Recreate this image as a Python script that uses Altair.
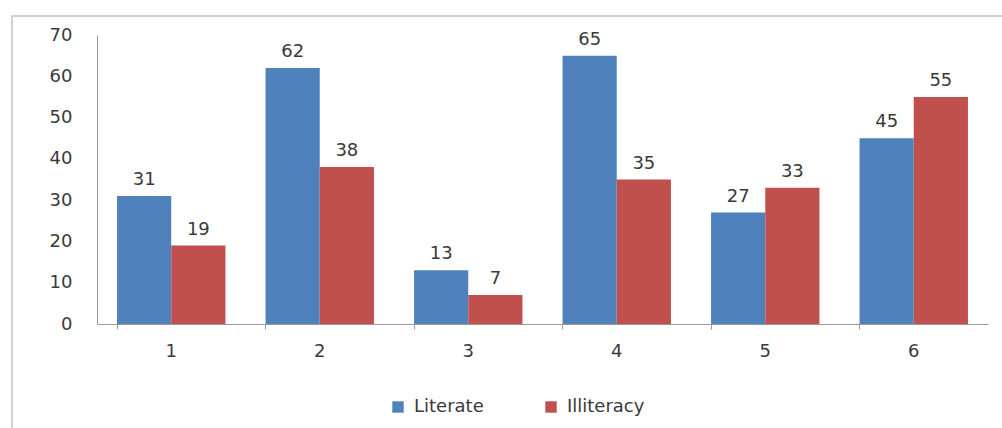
import altair as alt
import pandas as pd

categories = ["1", "2", "3", "4", "5", "6"]
literate = [31, 62, 13, 65, 27, 45]
illiteracy = [19, 38, 7, 35, 33, 55]
series = ["Literate", "Illiteracy"]
colors = ["#4F81BD", "#C0504D"]

rows = []
for c, a, b in zip(categories, literate, illiteracy):
    rows.append({"cat": c, "series": "Literate", "value": a})
    rows.append({"cat": c, "series": "Illiteracy", "value": b})
df = pd.DataFrame(rows)

FONT = "DejaVu Sans"
FS = 18
TXT = "#3a3a3a"
W, H = 891, 289

x = alt.X("cat:N", sort=categories, title=None,
          scale=alt.Scale(paddingInner=0.27, paddingOuter=0.135),
          axis=alt.Axis(labelAngle=0, labelFontSize=FS, labelColor=TXT,
                        labelFont=FONT, labelPadding=13, domainColor="#9a9a9a",
                        tickColor="#9a9a9a", tickSize=5, bandPosition=0))
xo = alt.XOffset("series:N", sort=series, scale=alt.Scale(paddingInner=0, paddingOuter=0))
y = alt.Y("value:Q", title=None,
          scale=alt.Scale(domain=[0, 70]),
          axis=alt.Axis(values=[0, 10, 20, 30, 40, 50, 60, 70], grid=False, ticks=False,
                        labelFontSize=FS, labelColor=TXT, labelFont=FONT,
                        labelPadding=25, domainColor="#9a9a9a"))
color = alt.Color("series:N", sort=series, title=None,
                  scale=alt.Scale(domain=series, range=colors),
                  legend=alt.Legend(orient="none", direction="horizontal",
                                    legendX=292, legendY=363, symbolType="square",
                                    symbolSize=130, symbolStrokeWidth=0,
                                    labelFontSize=FS, labelFont=FONT,
                                    labelColor=TXT, columnPadding=58,
                                    labelOffset=7))

base = alt.Chart(df)
bars = base.mark_bar().encode(x=x, xOffset=xo, y=y, color=color)
labels = base.mark_text(dy=-11, fontSize=FS, font=FONT, color=TXT,
                        baseline="alphabetic").encode(x=x, xOffset=xo, y=y, text="value:Q")

border = alt.Chart(pd.DataFrame({"d": [0]})).mark_rect(
    fill=None, stroke="#c4c4c4", strokeWidth=1.5
).encode(x=alt.value(-85), x2=alt.value(W + 40), y=alt.value(-19), y2=alt.value(H + 130))

chart = alt.layer(border, bars, labels).properties(
    width=W, height=H,
    background="white",
    autosize=alt.AutoSizeParams(type="none"),
    padding={"left": 97, "top": 35, "right": 14, "bottom": 104},
).configure_view(stroke="transparent", strokeWidth=0)

chart.save("out.html", embed_options={"renderer": "svg", "actions": False})
